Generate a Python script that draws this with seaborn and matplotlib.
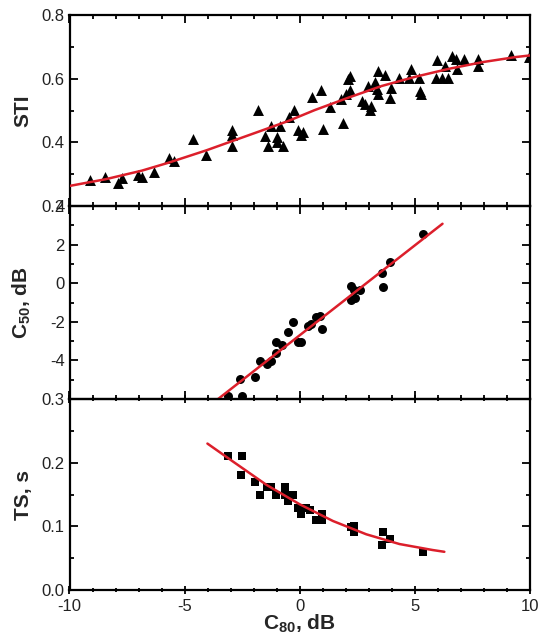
import matplotlib
matplotlib.use("Agg")
import matplotlib.pyplot as plt
import seaborn as sns
from matplotlib.ticker import MultipleLocator, FixedLocator

# ---------------- data ----------------
sti_x = [-9.09, -8.44, -7.89, -7.71, -7.04, -6.86, -6.34, -5.70, -5.44, -4.63, -4.05,
         -2.93, -2.93, -2.93, -1.81, -1.51, -1.37, -1.25, -0.99, -0.99, -0.74, -0.84,
         -0.45, -0.23, -0.06, 0.06, 0.13, 0.54, 0.91, 1.01, 1.30, 1.78, 1.88, 1.99,
         2.10, 2.18, 2.18, 2.69, 2.83, 2.95, 3.05, 3.10, 3.27, 3.34, 3.42, 3.42, 3.71,
         3.90, 3.97, 4.32, 4.73, 4.83, 5.17, 5.24, 5.26, 5.92, 5.97, 6.16, 6.29, 6.45,
         6.62, 6.77, 6.84, 7.13, 7.72, 7.72, 9.17, 9.95]
sti_y = [0.281, 0.291, 0.271, 0.288, 0.298, 0.291, 0.308, 0.351, 0.340, 0.410, 0.360,
         0.439, 0.423, 0.389, 0.501, 0.421, 0.389, 0.450, 0.418, 0.402, 0.389, 0.450,
         0.479, 0.501, 0.439, 0.423, 0.434, 0.542, 0.564, 0.442, 0.510, 0.535, 0.460,
         0.553, 0.599, 0.609, 0.564, 0.529, 0.521, 0.577, 0.502, 0.515, 0.590, 0.568,
         0.551, 0.623, 0.612, 0.540, 0.570, 0.602, 0.602, 0.631, 0.602, 0.561, 0.551,
         0.602, 0.659, 0.602, 0.639, 0.602, 0.670, 0.663, 0.631, 0.663, 0.663, 0.641,
         0.673, 0.668]
sti_fit_x = [-10, -8.44, -6.86, -5.7, -4.05, -2.93, -1.69, -0.5, 0.64, 2.1, 3.56, 5.02,
             6.48, 7.94, 9.39, 10]
sti_fit_y = [0.263, 0.284, 0.311, 0.336, 0.375, 0.404, 0.436, 0.467, 0.501, 0.540,
             0.577, 0.606, 0.631, 0.652, 0.668, 0.673]

c50_x = [-3.10, -2.52, -2.60, -1.95, -1.73, -1.44, -1.27, -1.01, -1.01, -0.79, -0.50,
         -0.29, -0.07, 0.07, 0.36, 0.51, 0.72, 0.89, 0.98, 2.24, 2.34, 2.24, 2.38, 2.63,
         3.58, 3.61, 3.90, 5.37]
c50_y = [-5.85, -5.85, -4.96, -4.84, -4.01, -4.19, -4.05, -3.62, -3.03, -3.18, -2.54,
         -1.99, -3.03, -3.06, -2.23, -2.11, -1.77, -1.71, -2.37, -0.16, -0.33, -0.85,
         -0.78, -0.33, 0.54, -0.21, 1.12, 2.56]
c50_fit_x = [-3.6, 6.2]
c50_fit_y = [-6.05, 3.08]

ts_x = [-3.13, -2.50, -2.57, -1.95, -1.73, -1.44, -1.23, -1.01, -0.65, -0.51, -0.29,
        -0.62, -0.07, 0.07, 0.29, 0.43, 0.69, 0.98, 0.98, 2.24, 2.34, 2.34, 3.61, 3.58,
        3.93, 5.34]
ts_y = [0.210, 0.210, 0.181, 0.170, 0.150, 0.161, 0.161, 0.150, 0.161, 0.140, 0.150,
        0.150, 0.129, 0.120, 0.129, 0.125, 0.110, 0.119, 0.110, 0.099, 0.091, 0.100,
        0.091, 0.070, 0.080, 0.060]
ts_fit_x = [-4.01, -2.89, -1.44, 0, 1.44, 2.89, 4.33, 5.77, 6.28]
ts_fit_y = [0.230, 0.2015, 0.165, 0.1346, 0.1084, 0.0875, 0.0722, 0.0628, 0.060]

x_ticks = [-10, -5, 0, 5, 10]
sti_ticks = [0.2, 0.4, 0.6, 0.8]
c50_ticks = [-4, -2, 0, 2, 4]
ts_ticks = [0.0, 0.1, 0.2, 0.3]

# ---------------- style ----------------
sns.set_style("ticks")
plt.rcParams['font.family'] = ['Liberation Sans', 'DejaVu Sans']
plt.rcParams['mathtext.fontset'] = 'custom'
plt.rcParams['mathtext.rm'] = 'Liberation Sans'
plt.rcParams['mathtext.bf'] = 'Liberation Sans:bold'

RED = '#dc1f2b'
fig = plt.figure(figsize=(5.38, 6.43), dpi=100)
W = 643.0
left, width = 69.5 / 538, 460.5 / 538
ax1 = fig.add_axes([left, (W - 206) / W, width, 191 / W])
ax2 = fig.add_axes([left, (W - 399) / W, width, 193 / W])
ax3 = fig.add_axes([left, (W - 590) / W, width, 191 / W])

sns.scatterplot(x=sti_x, y=sti_y, marker='^', color='black', s=62, linewidth=0, ax=ax1, zorder=3)
sns.lineplot(x=sti_fit_x, y=sti_fit_y, color=RED, lw=1.8, sort=False, estimator=None, ax=ax1, zorder=4)

sns.scatterplot(x=c50_x, y=c50_y, marker='o', color='black', s=42, linewidth=0, ax=ax2, zorder=3)
sns.lineplot(x=c50_fit_x, y=c50_fit_y, color=RED, lw=1.8, sort=False, estimator=None, ax=ax2, zorder=4)

sns.scatterplot(x=ts_x, y=ts_y, marker='s', color='black', s=34, linewidth=0, ax=ax3, zorder=3)
sns.lineplot(x=ts_fit_x, y=ts_fit_y, color=RED, lw=1.8, sort=False, estimator=None, ax=ax3, zorder=4)

ax1.set_ylim(0.2, 0.8)
ax2.set_ylim(-6, 4)
ax3.set_ylim(0.0, 0.3)

for ax in (ax1, ax2, ax3):
    ax.set_xlim(-10, 10)
    ax.xaxis.set_major_locator(FixedLocator(x_ticks))
    ax.xaxis.set_minor_locator(MultipleLocator(1))
    for s in ax.spines.values():
        s.set_linewidth(1.6)
        s.set_color('black')
    ax.tick_params(which='both', direction='in', top=True, right=True,
                   width=1.3, colors='black', labelcolor='#222222', labelsize=12)
    ax.tick_params(which='major', length=6)
    ax.tick_params(which='minor', length=3)
    ax.set_xlabel('')
    ax.patch.set_alpha(0)

ax1.yaxis.set_major_locator(FixedLocator(sti_ticks))
ax1.yaxis.set_minor_locator(MultipleLocator(0.1))
ax1.set_yticklabels(['0.2', '0.4', '0.6', '0.8'])
ax2.yaxis.set_major_locator(FixedLocator(c50_ticks))
ax2.yaxis.set_minor_locator(MultipleLocator(1))
ax2.set_yticklabels(['-4', '-2', '0', '2', '4'])
ax3.yaxis.set_major_locator(FixedLocator(ts_ticks))
ax3.yaxis.set_minor_locator(MultipleLocator(0.05))
ax3.set_yticklabels(['0.0', '0.1', '0.2', '0.3'])

ax1.tick_params(axis='x', labelbottom=False)
ax2.tick_params(axis='x', labelbottom=False)
ax3.tick_params(axis='x', which='both', direction='inout')
ax3.set_xticklabels(['-10', '-5', '0', '5', '10'])

lab = dict(fontsize=15, fontweight='bold')
ax1.set_ylabel('STI', **lab)
ax2.set_ylabel(r'$\mathbf{C_{50}}$, dB', **lab)
ax3.set_ylabel('TS, s', **lab)
ax3.set_xlabel(r'$\mathbf{C_{80}}$, dB', **lab)
for ax in (ax1, ax2, ax3):
    ax.yaxis.set_label_coords(-0.08, 0.5)
ax3.xaxis.set_label_coords(0.5, -0.12)

fig.savefig('out.png', dpi=100)
